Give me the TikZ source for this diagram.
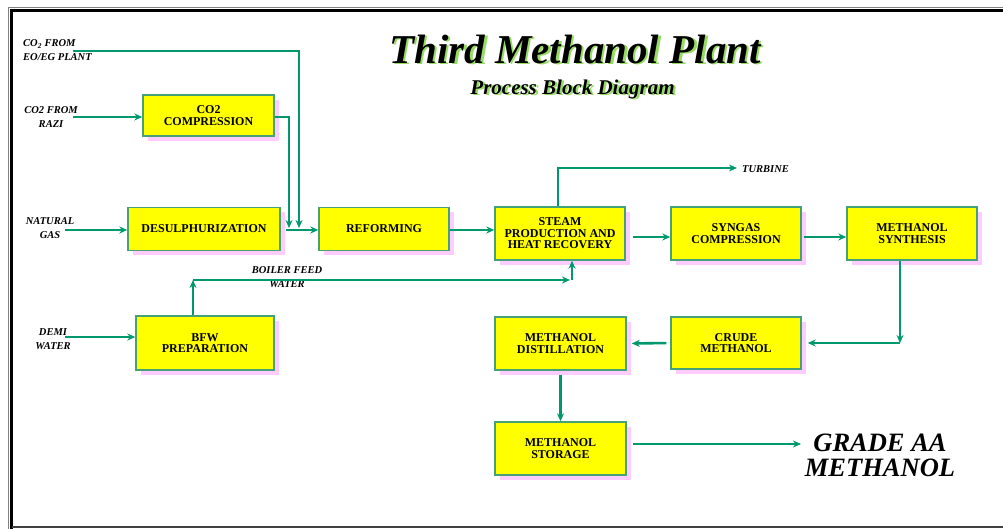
\documentclass[tikz,border=0pt]{standalone}
\usepackage{fontspec}
\setmainfont{Liberation Serif}
\usetikzlibrary{shadows,arrows.meta}
\definecolor{flowgreen}{RGB}{0,153,110}
\definecolor{boxline}{RGB}{70,160,120}
\definecolor{boxyellow}{RGB}{255,255,0}
\definecolor{shadepink}{RGB}{255,204,255}
\definecolor{titleshade}{RGB}{150,220,100}
\newcommand{\shadetext}[1]{\rlap{\raisebox{-1.5pt}{\hspace{2.5pt}\textcolor{titleshade}{#1}}}#1}
\tikzstyle{unit} = [draw=boxline, fill=boxyellow, line width=1.4pt,
    rectangle, align=center, inner sep=2pt,
    font=\fontsize{12}{11.5}\selectfont\bfseries,
    drop shadow={shadow xshift=5pt, shadow yshift=-5pt, fill=shadepink, opacity=1}]
\tikzstyle{stream} = [draw=flowgreen, line width=2.6pt, -{Stealth[length=8pt,width=7pt]}]
\tikzstyle{tag} = [font=\fontsize{10.5}{14}\selectfont\bfseries\itshape, align=center, inner sep=0pt]
\tikzstyle{bigtitle} = [font=\fontsize{41}{41}\selectfont\bfseries\itshape, inner sep=0pt]
\tikzstyle{subtitle} = [font=\fontsize{21}{21}\selectfont\bfseries\itshape, inner sep=0pt]

\begin{document}
\begin{tikzpicture}[x=1pt,y=-1pt]
\useasboundingbox (0,0) rectangle (1003,529);
% frame
\draw[gray, line width=1pt] (8,529) -- (8,8) -- (1003,8);
\draw[black, line width=3pt] (11.5,529) -- (11.5,11) -- (1003,11);
\draw[black!75, line width=1.5pt] (11.5,527) -- (1003,527);
% titles
\node[bigtitle] (title) at (575,50) {\shadetext{Third Methanol Plant}};
\node[subtitle] (subtitle) at (572.5,90) {\shadetext{Process Block Diagram}};
% units
\node[unit, minimum width=131pt, minimum height=41pt] (co2comp) at (208.5,115.5) {CO2\\COMPRESSION};
\node[unit, minimum width=152pt, minimum height=43pt] (desulph) at (204,229) {DESULPHURIZATION};
\node[unit, minimum width=130pt, minimum height=43pt] (reform) at (384,229) {REFORMING};
\node[unit, minimum width=130pt, minimum height=53pt] (steam) at (560,233.5) {STEAM\\PRODUCTION AND\\HEAT RECOVERY};
\node[unit, minimum width=130pt, minimum height=53pt] (syngas) at (736,233.5) {SYNGAS\\COMPRESSION};
\node[unit, minimum width=130pt, minimum height=53pt] (synth) at (912,233.5) {METHANOL\\SYNTHESIS};
\node[unit, minimum width=138pt, minimum height=54pt] (bfw) at (205,343) {BFW\\PREPARATION};
\node[unit, minimum width=131pt, minimum height=53pt] (distil) at (560.5,343.5) {METHANOL\\DISTILLATION};
\node[unit, minimum width=130pt, minimum height=52pt] (crude) at (736,343) {CRUDE\\METHANOL};
\node[unit, minimum width=131pt, minimum height=53pt] (storage) at (560.5,448.5) {METHANOL\\STORAGE};
% labels
\node[tag, align=left, anchor=west] (eoeglbl) at (23,50.5) {CO\textsubscript{2} FROM\\EO/EG PLANT};
\node[tag] (razilbl) at (51,117.5) {CO2 FROM\\RAZI};
\node[tag] (nglbl) at (50,228.5) {NATURAL\\GAS};
\node[tag] (demilbl) at (53,339) {DEMI\\WATER};
\node[tag] (bfwlbl) at (287,277.5) {BOILER FEED\\WATER};
\node[tag, anchor=west] (turblbl) at (742,169) {TURBINE};
\node[font=\fontsize{26.5}{25}\selectfont\bfseries\itshape, align=center] (grade) at (880,455) {GRADE AA\\METHANOL};
% stream points
\coordinate (eoeg) at (73,51);
\coordinate (razi) at (73,117);
\coordinate (ng) at (65,230);
\coordinate (demi) at (65,337);
\coordinate (mixa) at (289,228);
\coordinate (mixb) at (299,228);
\coordinate (mix) at (286,230);
\coordinate (bfwa) at (193,280);
\coordinate (bfwb) at (572,280);
\coordinate (turb) at (737,168);
\coordinate (synout) at (900,343);
\coordinate (gradeend) at (801,444);
% streams
\draw[stream] (eoeg) -| (mixb);
\draw[stream] (razi) -- (razi -| co2comp.west);
\draw[stream] (co2comp.east |- razi) -| (mixa);
\draw[stream] (ng) -- (ng -| desulph.west);
\draw[stream] (mix) -- (mix -| reform.west);
\draw[stream] (demi) -- (demi -| bfw.west);
\draw[stream] (bfw.north -| bfwa) -- (bfwa);
\draw[stream] (bfwa) -- ([xshift=-2pt]bfwb);
\draw[stream] (bfwb) -- (bfwb |- steam.south);
\draw[stream] ([yshift=-1pt]reform.east) -- ([yshift=-1pt]reform.east -| steam.west);
\draw[stream] ([xshift=-2pt]steam.north) |- (turb);
\draw[stream, shorten <=7pt] ([yshift=-3.5pt]steam.east) -- ([yshift=-3.5pt]syngas.west);
\draw[stream, shorten <=2pt] ([yshift=-3.5pt]syngas.east) -- ([yshift=-3.5pt]synth.west);
\draw[stream] (synth.south -| synout) -- (synout);
\draw[stream, shorten >=6pt] (synout) -- (synout -| crude.east);
\draw[stream, shorten <=4pt, shorten >=5pt] (crude.west) -- (distil.east);
\draw[stream, shorten <=4pt] (distil.south) -- (storage.north);
\draw[stream, shorten <=6pt] (storage.east |- gradeend) -- (gradeend);
\end{tikzpicture}
\end{document}
